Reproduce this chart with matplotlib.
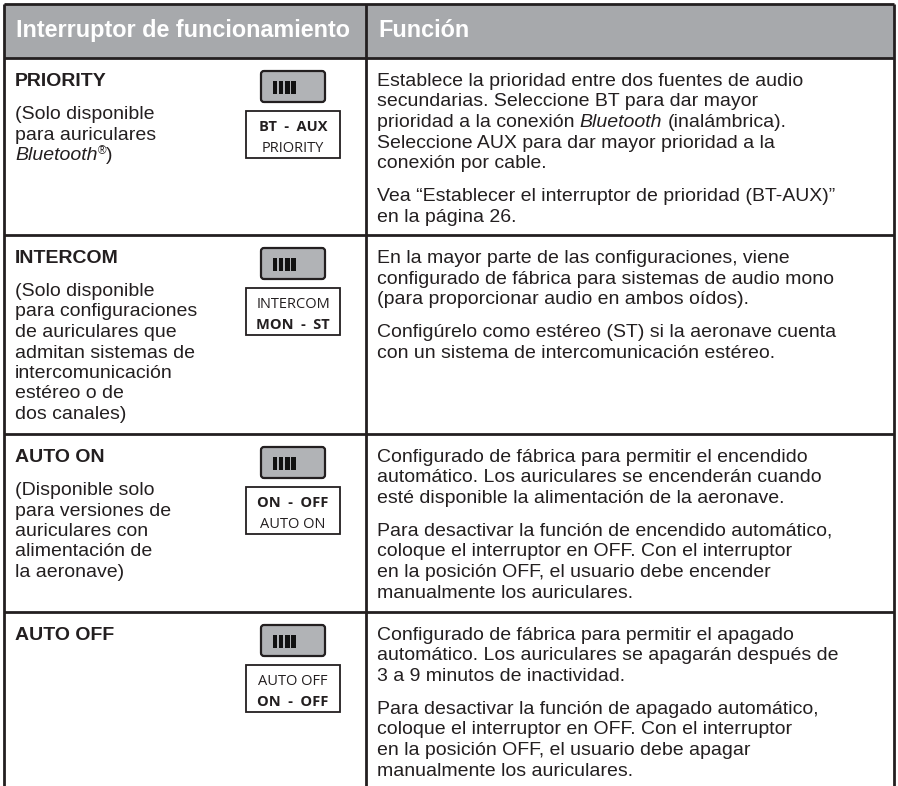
import matplotlib.pyplot as plt
from matplotlib.patches import Rectangle, FancyBboxPatch

# contenido de la tabla
encabezados = ["Interruptor de funcionamiento", "Función"]
nombres = ["PRIORITY", "INTERCOM", "AUTO ON", "AUTO OFF"]
notas = [
    ["(Solo disponible", "para auriculares", "*Bluetooth*^®^)"],
    ["(Solo disponible", "para configuraciones", "de auriculares que",
     "admitan sistemas de", "intercomunicación", "estéreo o de", "dos canales)"],
    ["(Disponible solo", "para versiones de", "auriculares con",
     "alimentación de", "la aeronave)"],
    [],
]
funciones = [
    [["Establece la prioridad entre dos fuentes de audio",
      "secundarias. Seleccione BT para dar mayor",
      "prioridad a la conexión *Bluetooth* (inalámbrica).",
      "Seleccione AUX para dar mayor prioridad a la",
      "conexión por cable."],
     ["Vea “Establecer el interruptor de prioridad (BT-AUX)”",
      "en la página 26."]],
    [["En la mayor parte de las configuraciones, viene",
      "configurado de fábrica para sistemas de audio mono",
      "(para proporcionar audio en ambos oídos)."],
     ["Configúrelo como estéreo (ST) si la aeronave cuenta",
      "con un sistema de intercomunicación estéreo."]],
    [["Configurado de fábrica para permitir el encendido",
      "automático. Los auriculares se encenderán cuando",
      "esté disponible la alimentación de la aeronave."],
     ["Para desactivar la función de encendido automático,",
      "coloque el interruptor en OFF. Con el interruptor",
      "en la posición OFF, el usuario debe encender",
      "manualmente los auriculares."]],
    [["Configurado de fábrica para permitir el apagado",
      "automático. Los auriculares se apagarán después de",
      "3 a 9 minutos de inactividad."],
     ["Para desactivar la función de apagado automático,",
      "coloque el interruptor en OFF. Con el interruptor",
      "en la posición OFF, el usuario debe apagar",
      "manualmente los auriculares."]],
]
# etiquetas del interruptor: (texto, negrita)
etiquetas = [
    [("BT  -  AUX", True), ("PRIORITY", False)],
    [("INTERCOM", False), ("MON  -  ST", True)],
    [("ON  -  OFF", True), ("AUTO ON", False)],
    [("AUTO OFF", False), ("ON  -  OFF", True)],
]

W, H = 898, 786
TINTA = '#231f20'
GRIS = '#a7a9ac'
FUENTE = 'Liberation Sans'
TAM = 14
INTERLINEA = 20.5
X_IZQ, X_DIV, X_DER = 4, 366, 894
Y_TOP, Y_HEAD = 4, 58
filas_top = [58, 235, 434, 612]

fig = plt.figure(figsize=(W / 100, H / 100), dpi=100)
ax = fig.add_axes([0, 0, 1, 1])
ax.set_xlim(0, W)
ax.set_ylim(H, 0)
ax.axis('off')
renderer = fig.canvas.get_renderer()


def ancho(t):
    return t.get_window_extent(renderer=renderer).width


def ancho_espacio(size):
    a = ax.text(0, 0, "n n", fontsize=size, family=FUENTE)
    b = ax.text(0, 0, "nn", fontsize=size, family=FUENTE)
    w = ancho(a) - ancho(b)
    a.remove()
    b.remove()
    return w


ESP = ancho_espacio(TAM)


def texto_rico(x, y, linea, size=TAM, weight='normal', color=TINTA):
    # '*' cambia a cursiva, '^' a superíndice
    trozos, actual, it, sup = [], '', False, False
    for c in linea:
        if c in '*^':
            if actual:
                trozos.append((actual, it, sup))
            actual = ''
            if c == '*':
                it = not it
            else:
                sup = not sup
        else:
            actual += c
    if actual:
        trozos.append((actual, it, sup))
    for txt, it, sup in trozos:
        x += (len(txt) - len(txt.lstrip(' '))) * ESP
        core = txt.strip(' ')
        if core:
            t = ax.text(x, y - (6 if sup else 0), core,
                        fontsize=size * (0.6 if sup else 1), family=FUENTE,
                        style='italic' if it else 'normal', weight=weight,
                        color=color, va='baseline', ha='left')
            x += ancho(t)
        x += (len(txt) - len(txt.rstrip(' '))) * ESP
    return x


def linea(x0, y0, x1, y1, lw=1.5):
    ax.plot([x0, x1], [y0, y1], color=TINTA, lw=lw, solid_capstyle='butt')


def interruptor(x, y):
    w, h = 64, 31
    ax.add_patch(FancyBboxPatch((x, y), w, h,
                                boxstyle="round,pad=0,rounding_size=3",
                                facecolor='#b1b3b6', edgecolor=TINTA, lw=1.6))
    for i in range(4):
        ax.add_patch(Rectangle((x + 12 + i * 6.1, y + 10), 4.3, h - 18,
                               facecolor='#111111', edgecolor='none'))


def caja_etiqueta(x, y, lineas):
    w, h = 94, 47
    ax.add_patch(Rectangle((x, y), w, h, facecolor='white',
                           edgecolor=TINTA, lw=1.3))
    for k, (txt, negrita) in enumerate(lineas):
        ax.text(x + w / 2, y + 20 + k * 21, txt, fontsize=10.5,
                family=['Open Sans', 'DejaVu Sans'],
                weight='bold' if negrita else 'normal',
                color=TINTA, ha='center', va='baseline')


# encabezado
ax.add_patch(Rectangle((X_IZQ, Y_TOP), X_DER - X_IZQ, Y_HEAD - Y_TOP,
                       facecolor=GRIS, edgecolor='none'))
ax.text(X_IZQ + 12, 37, encabezados[0], fontsize=16.8, weight='bold',
        family=FUENTE, color='white', va='baseline')
ax.text(X_DIV + 12, 37, encabezados[1], fontsize=16.8, weight='bold',
        family=FUENTE, color='white', va='baseline')

# bordes
linea(X_IZQ, Y_TOP, X_DER, Y_TOP, 2)
linea(X_IZQ, Y_TOP, X_IZQ, H, 2)
linea(X_DER, Y_TOP, X_DER, H, 2)
linea(X_DIV, Y_TOP, X_DIV, H, 2)
for yt in filas_top:
    linea(X_IZQ, yt, X_DER, yt, 2)

# filas
for i, yt in enumerate(filas_top):
    yb = yt + 22 + 6
    texto_rico(X_IZQ + 11, yb, nombres[i], weight='bold')
    for j, ln in enumerate(notas[i]):
        texto_rico(X_IZQ + 11, yb + 33 + j * INTERLINEA, ln)

    interruptor(261, yt + 13)
    caja_etiqueta(246, yt + 53, etiquetas[i])

    y = yb
    for p, parrafo in enumerate(funciones[i]):
        for ln in parrafo:
            texto_rico(X_DIV + 11, y, ln)
            y += INTERLINEA
        y += 12.5

fig.savefig('out.png', dpi=100)
